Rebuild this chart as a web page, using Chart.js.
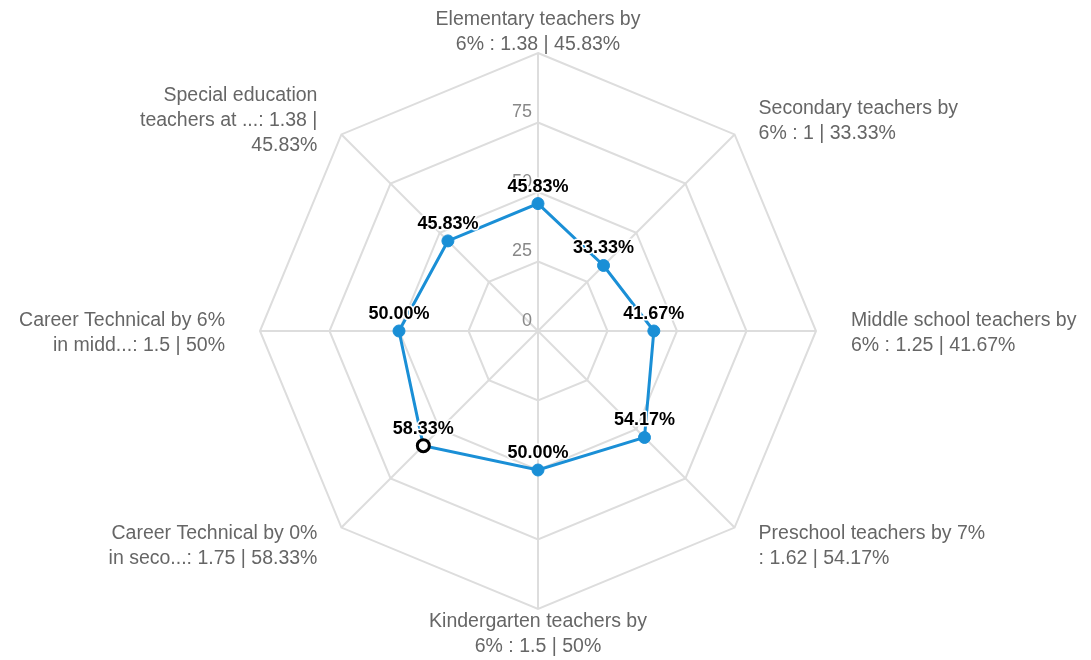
<!DOCTYPE html>
<html lang="en">
<head>
    <meta charset="UTF-8">
    <title>Teachers radar</title>
    <style>
        html, body { margin: 0; padding: 0; background: #fff; }
        .chart-canvas { width: 1091px; height: 660px; position: relative; }
    </style>
</head>
<body>
    <div class="chart-canvas">
        <canvas id="chart"></canvas>
    </div>

    <script src="https://cdn.jsdelivr.net/npm/chart.js@4.4.0/dist/chart.umd.js"></script>
    <script>
        // Categories (already wrapped the way the picture shows them)
        const categories = [
            ['Elementary teachers by', '6% : 1.38 | 45.83%'],
            ['Secondary teachers by', '6% : 1 | 33.33%'],
            ['Middle school teachers by', '6% : 1.25 | 41.67%'],
            ['Preschool teachers by 7%', ': 1.62 | 54.17%'],
            ['Kindergarten teachers by', '6% : 1.5 | 50%'],
            ['Career Technical by 0%', 'in seco...: 1.75 | 58.33%'],
            ['Career Technical by 6%', 'in midd...: 1.5 | 50%'],
            ['Special education', 'teachers at ...: 1.38 |', '45.83%']
        ];
        const shares = [45.83, 33.33, 41.67, 54.17, 50, 58.33, 50, 45.83];
        const tickValues = [0, 25, 50, 75];

        const lineColor = '#1a8fd6';
        const highlighted = 5; // hollow point
        const labelFont = '19.5px "Liberation Sans", Arial, sans-serif';

        // tick labels sit a little above each ring, left of the centre line
        const tickLabels = {
            id: 'tickLabels',
            beforeDatasetsDraw(chart) {
                const scale = chart.scales.r;
                const ctx = chart.ctx;
                ctx.save();
                ctx.font = '18px "Liberation Sans", Arial, sans-serif';
                ctx.fillStyle = '#888';
                ctx.textAlign = 'right';
                ctx.textBaseline = 'middle';
                tickValues.forEach(v => {
                    const d = scale.getDistanceFromCenterForValue(v);
                    ctx.fillText(String(v), scale.xCenter - 6, scale.yCenter - d - 10);
                });
                ctx.restore();
            }
        };

        // category labels placed off each outer vertex
        const categoryLabels = {
            id: 'categoryLabels',
            afterDraw(chart) {
                const scale = chart.scales.r;
                const ctx = chart.ctx;
                ctx.save();
                ctx.font = labelFont;
                ctx.fillStyle = '#666';
                ctx.textBaseline = 'middle';
                const lh = 24.8;
                categories.forEach((lines, i) => {
                    const p = scale.getPointPosition(i, scale.drawingArea);
                    const sx = Math.sign(Math.round(Math.cos(p.angle) * 100));
                    const sy = Math.sign(Math.round(Math.sin(p.angle) * 100));
                    const gx = sy === 0 ? 35 : 24;
                    const gy = sx === 0 ? 23 : 16;
                    const ax = p.x + sx * gx;
                    const ay = p.y + sy * gy + 2.5;
                    ctx.textAlign = sx > 0 ? 'left' : sx < 0 ? 'right' : 'center';
                    const y0 = ay - (lines.length - 1) / 2 * lh;
                    lines.forEach((ln, k) => ctx.fillText(ln, ax, y0 + k * lh));
                });
                ctx.restore();
            }
        };

        // bold value labels with white halo above every point
        const valueLabels = {
            id: 'valueLabels',
            afterDatasetsDraw(chart) {
                const ctx = chart.ctx;
                const meta = chart.getDatasetMeta(0);
                ctx.save();
                ctx.font = 'bold 18px "Liberation Sans", Arial, sans-serif';
                ctx.textAlign = 'center';
                ctx.textBaseline = 'middle';
                ctx.lineJoin = 'round';
                meta.data.forEach((pt, i) => {
                    const txt = shares[i].toFixed(2) + '%';
                    ctx.lineWidth = 3;
                    ctx.strokeStyle = '#fff';
                    ctx.strokeText(txt, pt.x, pt.y - 17);
                    ctx.fillStyle = '#000';
                    ctx.fillText(txt, pt.x, pt.y - 17);
                });
                ctx.restore();
            }
        };

        function createChart() {
            const ctx = document.getElementById('chart').getContext('2d');
            new Chart(ctx, {
                type: 'radar',
                data: {
                    labels: categories,
                    datasets: [{
                        data: shares,
                        borderColor: lineColor,
                        backgroundColor: 'transparent',
                        borderWidth: 3,
                        fill: false,
                        pointRadius: 6,
                        pointBackgroundColor: shares.map((v, i) => i === highlighted ? '#fff' : lineColor),
                        pointBorderColor: shares.map((v, i) => i === highlighted ? '#000' : lineColor),
                        pointBorderWidth: shares.map((v, i) => i === highlighted ? 3 : 1)
                    }]
                },
                options: {
                    responsive: true,
                    maintainAspectRatio: false,
                    animation: false,
                    layout: { padding: { top: 53, bottom: 51, left: 0, right: 15 } },
                    scales: {
                        r: {
                            min: 0,
                            max: 100,
                            ticks: { stepSize: 25, display: false },
                            grid: { color: '#dddddd', lineWidth: 2 },
                            angleLines: { color: '#dddddd', lineWidth: 2 },
                            pointLabels: { display: false }
                        }
                    },
                    plugins: {
                        legend: { display: false },
                        tooltip: { enabled: false }
                    }
                },
                plugins: [tickLabels, valueLabels, categoryLabels]
            });
        }

        document.addEventListener('DOMContentLoaded', createChart);
    </script>
</body>
</html>
